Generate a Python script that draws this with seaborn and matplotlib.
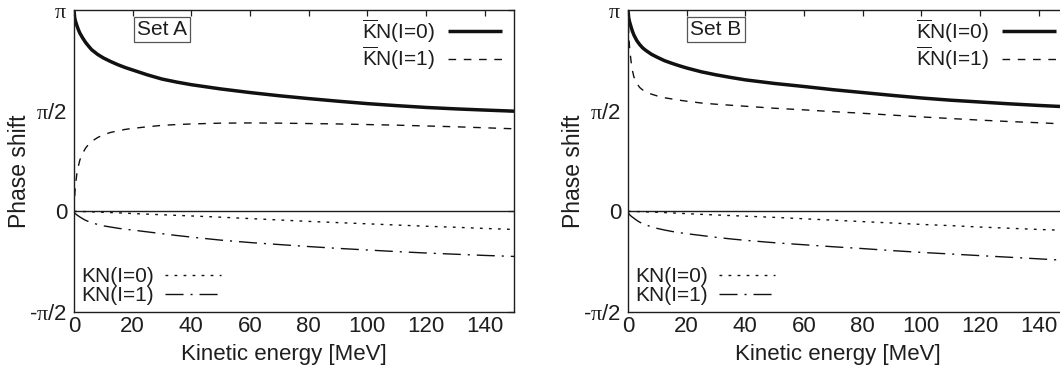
import numpy as np
import pandas as pd
import matplotlib
matplotlib.use("Agg")
import matplotlib.pyplot as plt
import seaborn as sns

# Kinetic energy grid [MeV]
energy = [0, 0.25, 0.5, 1, 1.5, 2, 3, 4, 5, 6, 8, 10, 12.5, 15, 17.5, 20, 25,
          30, 35, 40, 50, 60, 70, 80, 90, 100, 110, 120, 130, 140, 150]

# Phase shifts in units of pi -- Set A
a_kbarn_i0 = [1.0, 0.96, 0.945, 0.922, 0.902, 0.885, 0.86, 0.838, 0.82, 0.803,
              0.78, 0.762, 0.744, 0.728, 0.714, 0.702, 0.678, 0.657, 0.642,
              0.629, 0.608, 0.590, 0.574, 0.560, 0.547, 0.535, 0.525, 0.516,
              0.509, 0.503, 0.4975]
a_kbarn_i1 = [0.0, 0.08, 0.13, 0.19, 0.225, 0.255, 0.29, 0.315, 0.333, 0.347,
              0.366, 0.38, 0.392, 0.40, 0.407, 0.412, 0.42, 0.427, 0.431,
              0.434, 0.438, 0.439, 0.438, 0.436, 0.434, 0.431, 0.428, 0.424,
              0.420, 0.415, 0.410]
a_kn_i0 = [0.0, 0.0, 0.0, -0.0003, -0.0005, -0.0007, -0.001, -0.0015, -0.002,
           -0.0025, -0.0035, -0.0045, -0.006, -0.0075, -0.009, -0.011, -0.014,
           -0.017, -0.020, -0.023, -0.029, -0.036, -0.043, -0.050, -0.056,
           -0.062, -0.068, -0.074, -0.079, -0.085, -0.090]
a_kn_i1 = [0.0, -0.008, -0.012, -0.018, -0.023, -0.028, -0.037, -0.045, -0.051,
           -0.056, -0.065, -0.072, -0.078, -0.084, -0.089, -0.093, -0.102,
           -0.111, -0.120, -0.128, -0.143, -0.155, -0.165, -0.175, -0.184,
           -0.192, -0.200, -0.207, -0.213, -0.219, -0.224]

# Phase shifts in units of pi -- Set B
b_kbarn_i0 = [1.0, 0.96, 0.943, 0.918, 0.895, 0.876, 0.848, 0.828, 0.812, 0.80,
              0.78, 0.765, 0.748, 0.735, 0.723, 0.712, 0.693, 0.678, 0.665,
              0.653, 0.635, 0.620, 0.604, 0.590, 0.576, 0.563, 0.552, 0.543,
              0.534, 0.526, 0.519]
b_kbarn_i1 = [1.0, 0.88, 0.82, 0.75, 0.70, 0.668, 0.635, 0.615, 0.603, 0.594,
              0.582, 0.573, 0.564, 0.558, 0.552, 0.547, 0.538, 0.532, 0.527,
              0.522, 0.512, 0.504, 0.495, 0.487, 0.478, 0.469, 0.461, 0.453,
              0.446, 0.440, 0.433]
b_kn_i0 = [0.0, 0.0, 0.0, -0.0003, -0.0005, -0.0007, -0.001, -0.0016, -0.002,
           -0.0026, -0.0037, -0.0047, -0.0063, -0.008, -0.0095, -0.0115,
           -0.015, -0.018, -0.021, -0.024, -0.030, -0.037, -0.044, -0.051,
           -0.058, -0.065, -0.071, -0.078, -0.084, -0.090, -0.095]
b_kn_i1 = [0.0, -0.010, -0.016, -0.023, -0.029, -0.034, -0.045, -0.054, -0.061,
           -0.067, -0.077, -0.085, -0.093, -0.100, -0.106, -0.111, -0.120,
           -0.129, -0.137, -0.144, -0.156, -0.166, -0.176, -0.185, -0.195,
           -0.204, -0.212, -0.220, -0.228, -0.236, -0.244]

panel_titles = ["Set A", "Set B"]
series_labels = [r"$\overline{\mathsf{K}}$N(I=0)", r"$\overline{\mathsf{K}}$N(I=1)",
                 "KN(I=0)", "KN(I=1)"]
y_ticks = [-0.5, 0.0, 0.5, 1.0]
y_ticklabels = [r"-$\mathrm{\pi}$/2", "0", r"$\mathrm{\pi}$/2", r"$\mathrm{\pi}$"]
x_ticks = [0, 20, 40, 60, 80, 100, 120, 140]

sns.set_style("white")
ink = "#1e1e1e"
plt.rcParams.update({
    "font.family": ["Liberation Sans", "DejaVu Sans"],
    "mathtext.fontset": "custom",
    "mathtext.rm": "Liberation Serif",
    "mathtext.sf": "Liberation Sans",
    "mathtext.it": "Liberation Sans:italic",
    "text.color": ink,
    "axes.labelcolor": ink,
    "xtick.color": ink,
    "ytick.color": ink,
})

styles = [
    dict(lw=2.5, linestyle="-"),
    dict(lw=1.0, linestyle=(0, (5.5, 5.5))),
    dict(lw=1.0, linestyle=(0, (2.0, 4.5))),
    dict(lw=1.0, linestyle=(0, (13, 5, 1.5, 5))),
]

fig = plt.figure(figsize=(10.6, 3.77), dpi=100)
ax_a = fig.add_axes([74 / 1060, 1 - 312 / 377, 440 / 1060, 302 / 377])
ax_b = fig.add_axes([628 / 1060, 1 - 312 / 377, 440 / 1060, 302 / 377])

panels = [
    (ax_a, [a_kbarn_i0, a_kbarn_i1, a_kn_i0, a_kn_i1]),
    (ax_b, [b_kbarn_i0, b_kbarn_i1, b_kn_i0, b_kn_i1]),
]

for (ax, curves), title in zip(panels, panel_titles):
    ax.axhline(0, color=ink, lw=1.0, zorder=1)
    for values, label, st in zip(curves, series_labels, styles):
        df = pd.DataFrame({"energy": energy, "delta": values})
        sns.lineplot(data=df, x="energy", y="delta", ax=ax, color="#111111",
                     label=label, estimator=None, sort=False,
                     solid_capstyle="butt", dash_capstyle="butt",
                     solid_joinstyle="round", **st)

    ax.set_xlim(0, 150)
    ax.set_ylim(-0.5, 1.0)
    ax.set_xticks(x_ticks)
    ax.set_yticks(y_ticks)
    ax.set_yticklabels(y_ticklabels)
    ax.tick_params(direction="in", top=True, right=True, length=4, width=0.9,
                   labelsize=16)
    ax.tick_params(axis="x", pad=3)
    ax.tick_params(axis="y", pad=5)
    for sp in ax.spines.values():
        sp.set_color(ink)
        sp.set_linewidth(1.0)

    ax.set_xlabel("Kinetic energy [MeV]", fontsize=16)
    ax.set_ylabel("Phase shift", fontsize=16.5)
    ax.xaxis.set_label_coords(0.476, -0.105)
    ax.yaxis.set_label_coords(-0.098, 0.465)

    ax.text(0.2, 0.935, title, transform=ax.transAxes, fontsize=15,
            ha="center", va="center",
            bbox=dict(boxstyle="square,pad=0.15", fc="white", ec="#555555",
                      lw=0.9))

    handles, labels = ax.get_legend_handles_labels()
    leg_top = ax.legend(handles[:2], labels[:2], loc="upper right",
                        bbox_to_anchor=(0.972, 0.975), frameon=False,
                        markerfirst=False, fontsize=15, handlelength=2.6,
                        handletextpad=0.6, borderpad=0, borderaxespad=0,
                        labelspacing=0.0)
    ax.add_artist(leg_top)
    ax.legend(handles[2:], labels[2:], loc="lower left",
              bbox_to_anchor=(0.016, 0.022), frameon=False,
              markerfirst=False, fontsize=15, handlelength=2.7,
              handletextpad=0.55, borderpad=0, borderaxespad=0,
              labelspacing=0.0)

fig.savefig("out.png", dpi=100)
